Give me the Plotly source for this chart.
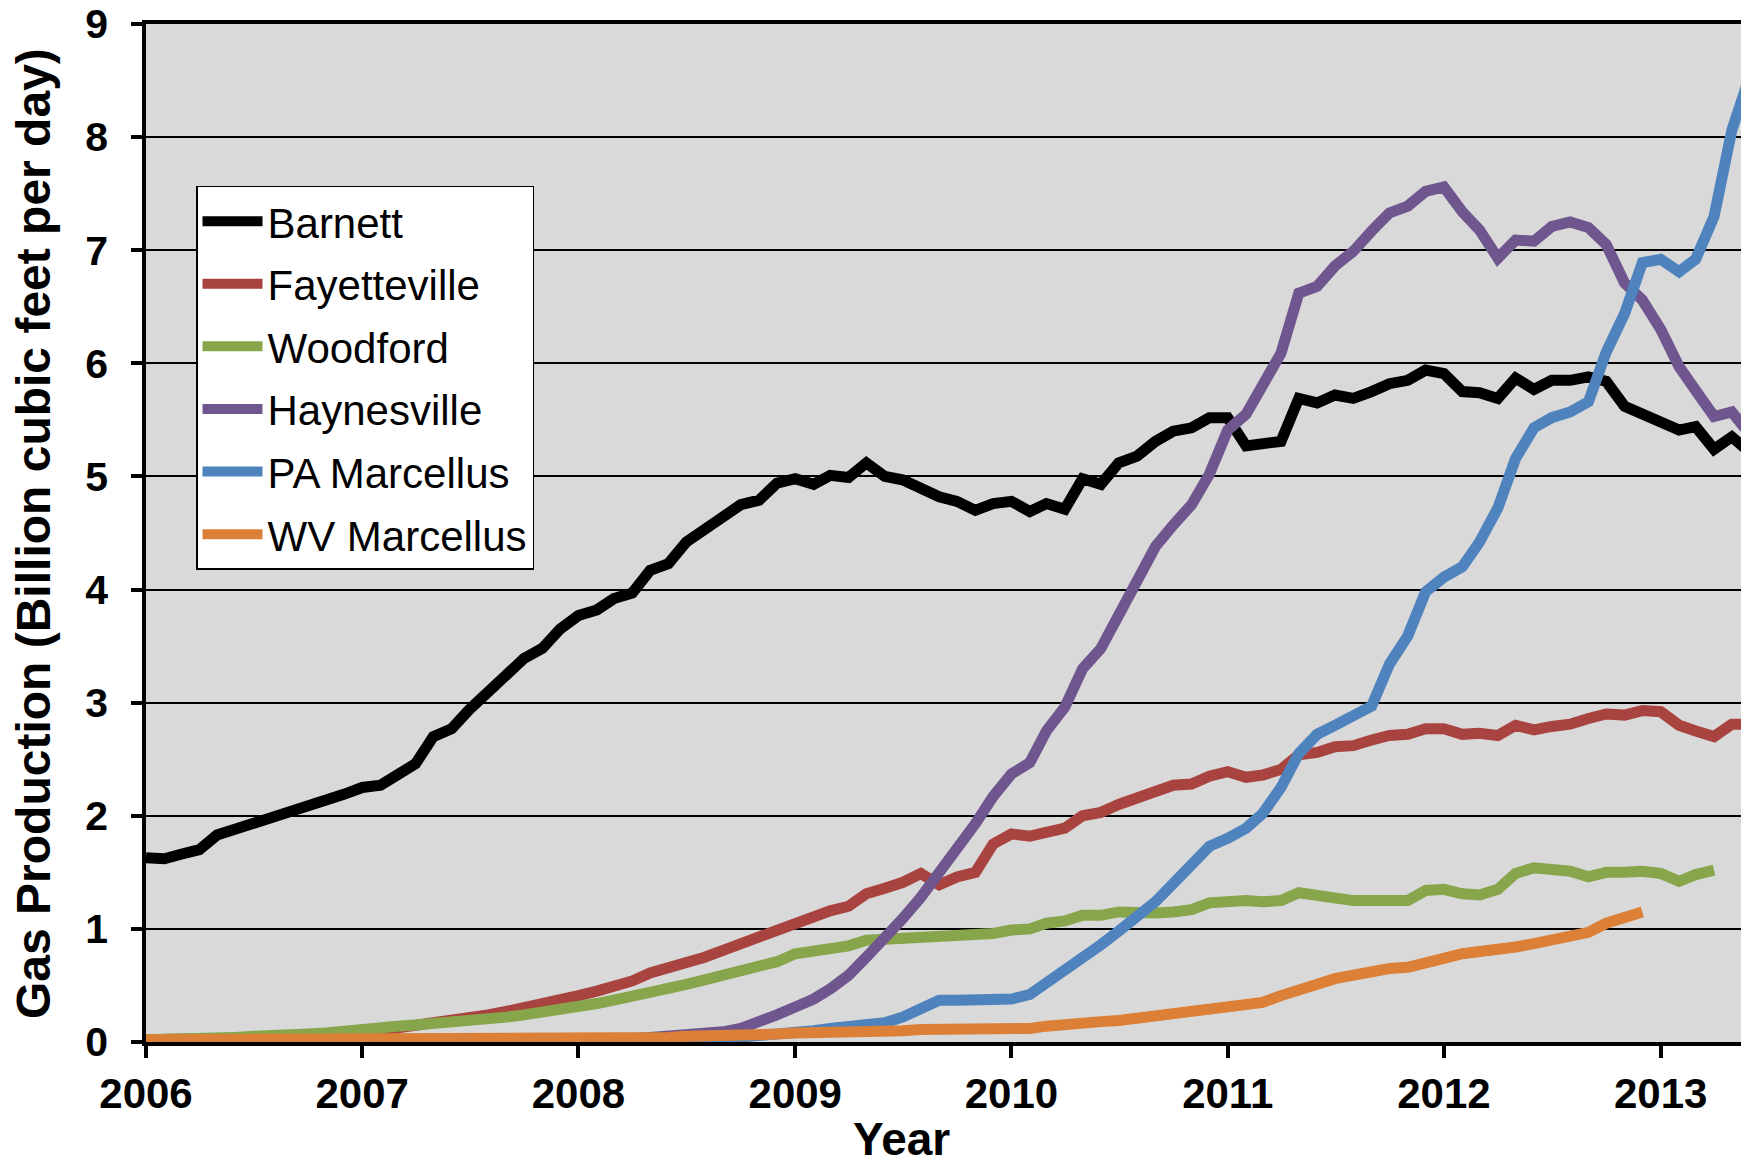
import pandas as pd
import plotly.graph_objects as go

# Monthly dates (first of month), Jan 2006 onwards
months = pd.date_range("2006-01-01", periods=90, freq="MS")

barnett = [1.63, 1.62, 1.66, 1.70, 1.83, 1.88, 1.94, 1.97, 2.02, 2.09, 2.12, 2.19,
           2.25, 2.27, 2.36, 2.46, 2.70, 2.77, 2.94, 3.09, 3.23, 3.39, 3.48, 3.65,
           3.77, 3.82, 3.92, 3.97, 4.17, 4.23, 4.42, 4.53, 4.62, 4.75, 4.79, 4.94,
           4.98, 4.93, 5.01, 4.99, 5.12, 5.00, 4.97, 4.90, 4.82, 4.78, 4.70, 4.76,
           4.78, 4.69, 4.76, 4.71, 4.98, 4.93, 5.12, 5.18, 5.31, 5.40, 5.43, 5.52,
           5.52, 5.27, 5.29, 5.31, 5.69, 5.65, 5.72, 5.69, 5.75, 5.82, 5.85, 5.94,
           5.91, 5.75, 5.74, 5.69, 5.87, 5.77, 5.85, 5.85, 5.88, 5.84, 5.62, 5.55,
           5.48, 5.41, 5.44, 5.24, 5.35, 5.21]

fayetteville = [0.02, 0.02, 0.02, 0.03, 0.03, 0.03, 0.04, 0.04, 0.05, 0.05, 0.06, 0.07,
                0.08, 0.10, 0.12, 0.15, 0.17, 0.19, 0.21, 0.24, 0.27, 0.30, 0.33, 0.37,
                0.41, 0.45, 0.49, 0.54, 0.61, 0.65, 0.69, 0.75, 0.81, 0.87, 0.92, 0.98,
                1.06, 1.10, 1.16, 1.20, 1.31, 1.36, 1.41, 1.49, 1.39, 1.46, 1.50, 1.75,
                1.84, 1.82, 1.85, 1.89, 2.00, 2.03, 2.10, 2.16, 2.22, 2.27, 2.28, 2.35,
                2.39, 2.34, 2.36, 2.41, 2.54, 2.56, 2.61, 2.62, 2.67, 2.71, 2.72, 2.77,
                2.77, 2.72, 2.73, 2.71, 2.80, 2.76, 2.79, 2.81, 2.86, 2.90, 2.89, 2.93,
                2.92, 2.80, 2.75, 2.70, 2.81, 2.81]

woodford = [0.02, 0.02, 0.03, 0.03, 0.04, 0.04, 0.05, 0.05, 0.06, 0.07, 0.08, 0.10,
            0.12, 0.13, 0.14, 0.15, 0.16, 0.17, 0.18, 0.20, 0.22, 0.24, 0.26, 0.28,
            0.32, 0.34, 0.37, 0.40, 0.44, 0.47, 0.51, 0.55, 0.59, 0.62, 0.66, 0.71,
            0.78, 0.80, 0.83, 0.85, 0.90, 0.91, 0.92, 0.92, 0.92, 0.93, 0.94, 0.96,
            0.99, 1.00, 1.05, 1.07, 1.12, 1.12, 1.15, 1.14, 1.14, 1.15, 1.17, 1.23,
            1.25, 1.25, 1.24, 1.25, 1.32, 1.30, 1.26, 1.25, 1.25, 1.25, 1.25, 1.34,
            1.35, 1.31, 1.30, 1.35, 1.49, 1.54, 1.52, 1.51, 1.46, 1.50, 1.50, 1.51,
            1.49, 1.42, 1.48, 1.52]

haynesville = [0.01, 0.01, 0.01, 0.01, 0.01, 0.01, 0.01, 0.01, 0.01, 0.01, 0.01, 0.01,
               0.01, 0.01, 0.01, 0.02, 0.02, 0.02, 0.02, 0.02, 0.02, 0.02, 0.02, 0.02,
               0.02, 0.03, 0.03, 0.03, 0.04, 0.05, 0.06, 0.07, 0.09, 0.12, 0.17, 0.24,
               0.31, 0.38, 0.47, 0.59, 0.75, 0.91, 1.09, 1.28, 1.49, 1.70, 1.93, 2.17,
               2.37, 2.47, 2.75, 2.96, 3.30, 3.48, 3.78, 4.08, 4.38, 4.57, 4.75, 5.02,
               5.41, 5.55, 5.82, 6.09, 6.62, 6.68, 6.86, 6.99, 7.17, 7.33, 7.39, 7.52,
               7.56, 7.34, 7.18, 6.93, 7.09, 7.08, 7.21, 7.25, 7.20, 7.05, 6.71, 6.56,
               6.30, 5.97, 5.76, 5.53, 5.57, 5.37]

pa_marcellus = [0.00, 0.00, 0.00, 0.00, 0.00, 0.00, 0.00, 0.00, 0.00, 0.00, 0.00, 0.00,
                0.00, 0.00, 0.00, 0.00, 0.00, 0.00, 0.00, 0.00, 0.00, 0.00, 0.00, 0.00,
                0.01, 0.01, 0.01, 0.01, 0.01, 0.01, 0.01, 0.02, 0.03, 0.04, 0.05, 0.06,
                0.08, 0.10, 0.12, 0.13, 0.15, 0.17, 0.22, 0.29, 0.37, 0.37, 0.37, 0.37,
                0.38, 0.42, 0.52, 0.62, 0.75, 0.86, 0.98, 1.11, 1.24, 1.40, 1.56, 1.73,
                1.80, 1.89, 2.02, 2.25, 2.55, 2.72, 2.80, 2.88, 2.97, 3.34, 3.59, 3.98,
                4.11, 4.20, 4.42, 4.72, 5.16, 5.43, 5.52, 5.57, 5.66, 6.10, 6.44, 6.89,
                6.92, 6.81, 6.92, 7.30, 8.06, 8.55]

wv_marcellus = [0.02, 0.02, 0.02, 0.02, 0.02, 0.02, 0.02, 0.02, 0.02, 0.02, 0.02, 0.02,
                0.03, 0.03, 0.03, 0.03, 0.03, 0.03, 0.03, 0.03, 0.03, 0.03, 0.03, 0.03,
                0.04, 0.04, 0.04, 0.04, 0.04, 0.04, 0.05, 0.05, 0.06, 0.06, 0.07, 0.07,
                0.08, 0.08, 0.09, 0.09, 0.10, 0.10, 0.10, 0.11, 0.11, 0.11, 0.12, 0.12,
                0.11, 0.12, 0.14, 0.16, 0.17, 0.18, 0.19, 0.21, 0.22, 0.25, 0.27, 0.28,
                0.30, 0.31, 0.35, 0.41, 0.47, 0.51, 0.56, 0.59, 0.63, 0.65, 0.66, 0.69,
                0.74, 0.78, 0.80, 0.80, 0.84, 0.87, 0.90, 0.93, 0.97, 1.05, 1.09, 1.15]

series_names = ["Barnett", "Fayetteville", "Woodford", "Haynesville", "PA Marcellus", "WV Marcellus"]
series_values = [barnett, fayetteville, woodford, haynesville, pa_marcellus, wv_marcellus]
series_colors = ["#000000", "#A9433F", "#87A64B", "#6F568E", "#4F83BE", "#DC8037"]

FONT = "Liberation Sans, Arial, Helvetica, sans-serif"

fig = go.Figure()
for name, vals, color in zip(series_names, series_values, series_colors):
    fig.add_trace(go.Scatter(
        x=months[:len(vals)], y=vals, mode="lines", name=name, legendgroup=name,
        line=dict(color=color, width=11),
    ))

# the page body has an 8px default margin, so the figure is sized/offset for it
fig.update_layout(
    width=1741, height=1159,
    margin=dict(l=138, r=0, t=16, b=125),
    paper_bgcolor="white", plot_bgcolor="#d9d9d9",
    font=dict(family=FONT, color="black"),
    showlegend=True,
    legend=dict(x=0.0312, y=0.841, xanchor="left", yanchor="top",
                bgcolor="white", bordercolor="black", borderwidth=1.5,
                font=dict(family=FONT, size=42, color="black"),
                itemwidth=60, tracegroupgap=5),
)

fig.update_xaxes(
    type="date", range=["2006-01-01", "2013-05-30"], automargin=False,
    tick0="2006-01-01", dtick="M12", tickformat="%Y",
    ticks="outside", ticklen=12, tickwidth=3.5, tickcolor="black",
    showline=True, linecolor="black", linewidth=3.5, mirror=True,
    showgrid=False, zeroline=False, ticklabeloverflow="allow",
    tickfont=dict(family=FONT, size=42, color="black", weight="bold"),
    ticklabelstandoff=0,
)

fig.update_yaxes(
    range=[0, 9], tickvals=list(range(10)), automargin=False,
    ticks="outside", ticklen=11, tickwidth=3.5, tickcolor="black",
    showline=True, linecolor="black", linewidth=3.5, mirror=True,
    showgrid=True, gridcolor="black", gridwidth=2, zeroline=False,
    ticklabeloverflow="allow",
    tickfont=dict(family=FONT, size=41, color="black", weight="bold"),
    ticklabelstandoff=15,
)

fig.add_annotation(text="Gas Production (Billion cubic feet per day)",
                   xref="paper", yref="paper", x=-0.0705, y=0.5, textangle=-90,
                   xanchor="center", yanchor="middle", showarrow=False,
                   font=dict(family=FONT, size=48, color="black", weight="bold"))

fig.add_annotation(text="Year", xref="paper", yref="paper", x=0.471, y=-0.1228,
                   xanchor="center", yanchor="bottom", showarrow=False,
                   font=dict(family=FONT, size=46, color="black", weight="bold"))

fig.write_html("out.html")
